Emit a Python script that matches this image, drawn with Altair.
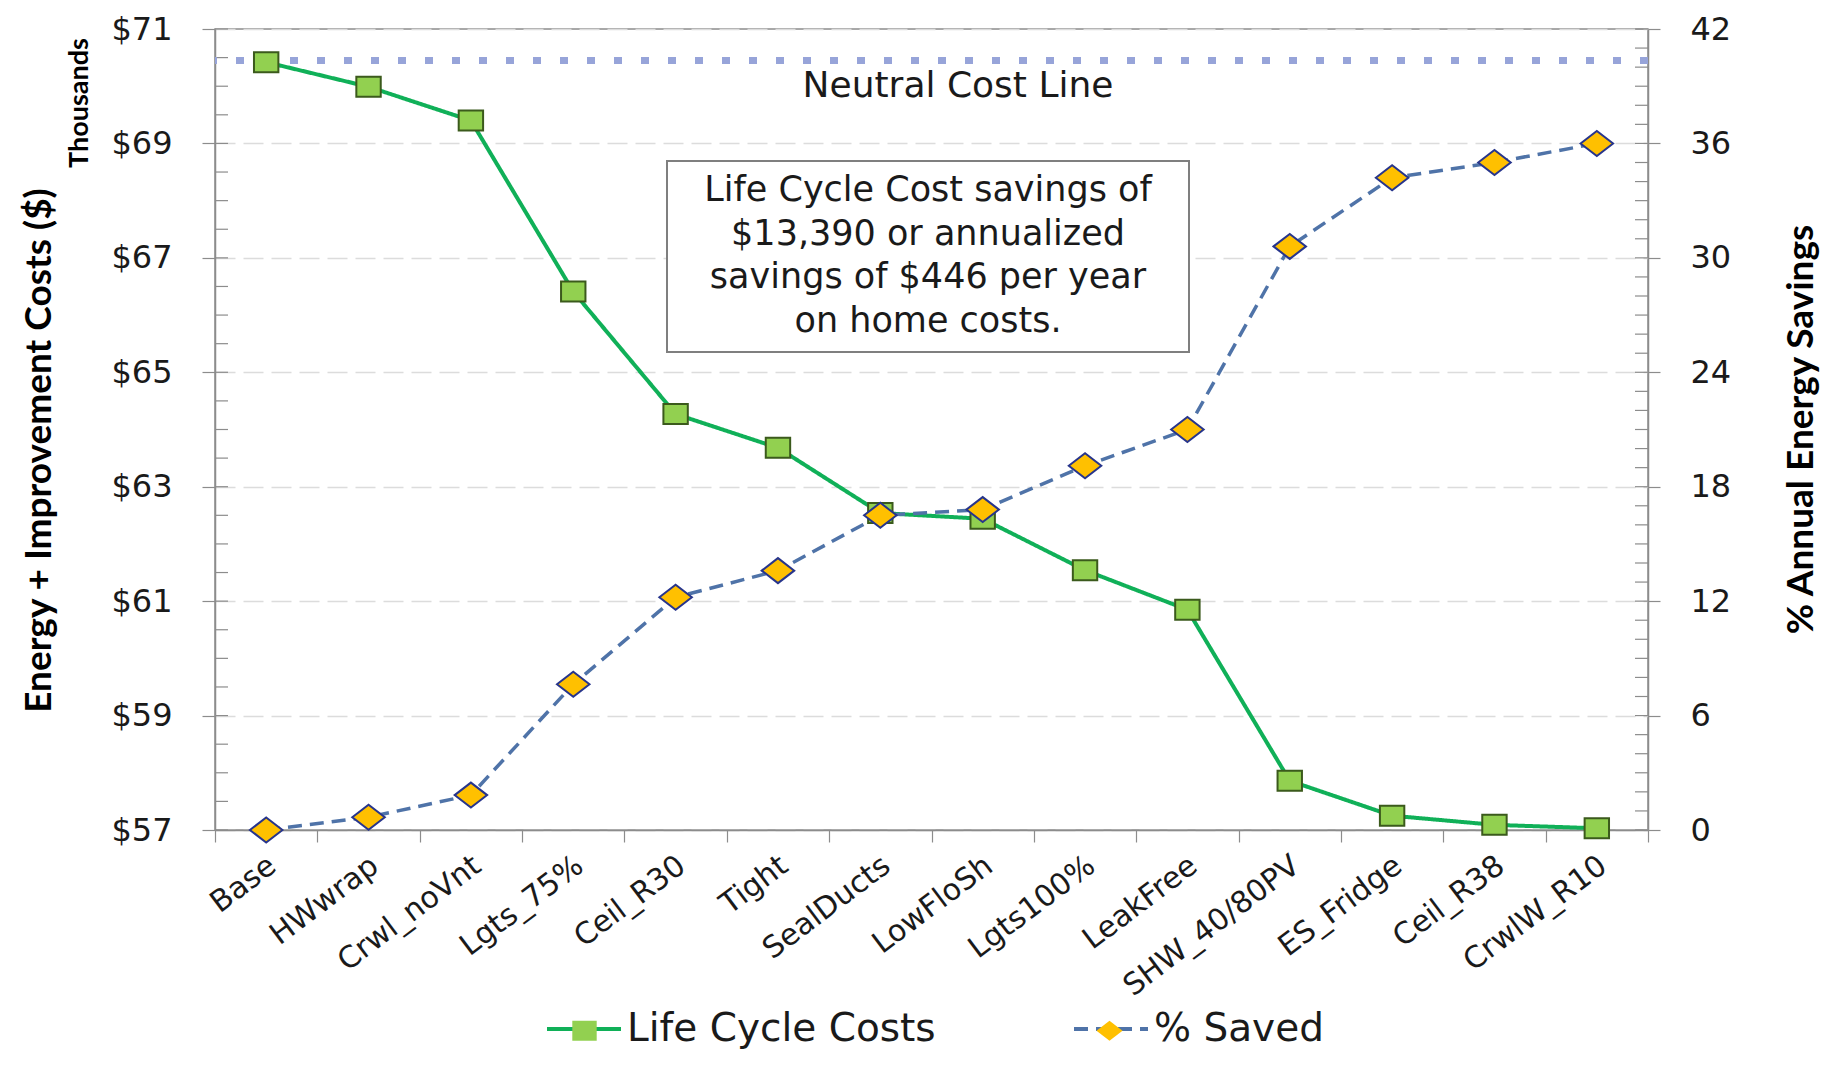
import altair as alt
import pandas as pd

# ---------------- data ----------------
categories = ["Base", "HWwrap", "Crwl_noVnt", "Lgts_75%", "Ceil_R30", "Tight",
              "SealDucts", "LowFloSh", "Lgts100%", "LeakFree", "SHW_40/80PV",
              "ES_Fridge", "Ceil_R38", "CrwlW_R10"]
life_cycle_costs = [70.42, 69.99, 69.40, 66.41, 64.27, 63.68, 62.54, 62.44,
                    61.54, 60.85, 57.86, 57.25, 57.09, 57.03]
pct_saved = [0.0, 0.67, 1.83, 7.64, 12.2, 13.6, 16.5, 16.8, 19.1, 21.0,
             30.6, 34.2, 35.0, 36.0]
neutral_cost = 70.45
series_names = ["Life Cycle Costs", "% Saved"]
marker_keys = ["lcc", "saved"]
left_ticks = [57, 59, 61, 63, 65, 67, 69, 71]
right_ticks = [0, 6, 12, 18, 24, 30, 36, 42]
left_minor = [57 + 0.5 * i for i in range(29)]
right_minor = list(range(0, 43))
note_text = "Life Cycle Cost savings of\n$13,390 or annualized\nsavings of $446 per year\non home costs."
neutral_label = "Neutral Cost Line"
left_title = "Energy + Improvement Costs ($)"
left_subtitle = "Thousands"
right_title = "% Annual Energy Savings"

# ---------------- style ----------------
W, H = 1433, 801
REG = "DejaVu Sans"
BOLD = "Lato"
TXT = "#1a1a1a"
AX = "#8c8c8c"
GREEN = "#10b058"
BLUE = "#4f73a8"
SQ_FILL = "#92d050"
DI_FILL = "#ffc000"
SQ_PATH = "M-1.22,-1L1.22,-1L1.22,1L-1.22,1Z"
DI_PATH = "M-1.3,0L0,-1L1.3,0L0,1Z"

df_cost = pd.DataFrame({"category": categories, "value": life_cycle_costs,
                        "marker": marker_keys[0], "series_line": series_names[0]})
df_saved = pd.DataFrame({"category": categories, "value": pct_saved,
                         "marker": marker_keys[1], "series_line": series_names[1]})
one = pd.DataFrame({"a": [0]})

x_enc = alt.X("category:N", sort=categories, bandPosition=0.5,
              scale=alt.Scale(type="band", paddingInner=0, paddingOuter=0),
              axis=alt.Axis(title=None, tickBand="extent", ticks=True, tickSize=12,
                            tickColor=AX, domainColor=AX, tickWidth=1.2, domainWidth=1.5,
                            labelAngle=-37, labelAlign="right", labelBaseline="middle",
                            labelPadding=20, labelOffset=6, labelFont=REG,
                            labelFontSize=30, labelColor=TXT, labelLimit=600,
                            labelOverlap=False, grid=False))

y_left = alt.Y("value:Q", scale=alt.Scale(domain=[57, 71], nice=False, zero=False),
               axis=alt.Axis(orient="left", values=left_ticks,
                             labelExpr="'$' + datum.value", labelFont=REG,
                             labelFontSize=32, labelColor=TXT, labelPadding=30,
                             labelOverlap=False,
                             tickSize=13, tickColor=AX, tickWidth=1.2,
                             domainColor=AX, domainWidth=1.5,
                             grid=True, gridColor="#dcdcdc", gridDash=[20, 8],
                             gridWidth=1.5,
                             title=left_title, titleFont=BOLD, titleFontWeight="bold",
                             titleFontSize=37, titleColor="#000000", titleAngle=270,
                             titleX=-165, titleY=421, titleAlign="center",
                             titleBaseline="alphabetic"))

y_right = alt.Y("value:Q", scale=alt.Scale(domain=[0, 42], nice=False),
                axis=alt.Axis(orient="right", values=right_ticks, labelFont=REG,
                              labelFontSize=32, labelColor=TXT, labelPadding=30,
                              labelOverlap=False,
                              tickSize=12, tickColor=AX, tickWidth=1.2,
                              domainColor=AX, domainWidth=1.5, grid=False,
                              title=right_title, titleFont=BOLD, titleFontWeight="bold",
                              titleFontSize=37, titleColor="#000000", titleAngle=270,
                              titleX=164, titleY=400, titleAlign="center",
                              titleBaseline="alphabetic"))

# line part of the legend (with labels)
legA = alt.Legend(orient="none", legendX=330, legendY=961, direction="horizontal",
                  title=None, symbolType="stroke", symbolSize=5476,
                  symbolStrokeWidth=4, labelFont=REG, labelFontSize=39,
                  labelColor=TXT, labelOffset=4, columnPadding=130, padding=0,
                  labelLimit=700)
# marker part of the legend, laid over the line symbols
legB = alt.Legend(orient="none", legendX=350, legendY=982, direction="horizontal",
                  title=None, symbolSize=400, symbolStrokeColor="#2a3550",
                  symbolStrokeWidth=2, symbolOpacity=1, labelFont=REG,
                  labelFontSize=39, labelExpr="''", labelOffset=8,
                  columnPadding=478, padding=0, labelLimit=700)

stroke_enc = alt.Stroke("series_line:N",
                        scale=alt.Scale(domain=series_names, range=[GREEN, BLUE]),
                        legend=legA)
dash_enc = alt.StrokeDash("series_line:N",
                          scale=alt.Scale(domain=series_names, range=[[1, 0], [14, 8]]),
                          legend=legA)
fill_enc = alt.Fill("marker:N",
                    scale=alt.Scale(domain=marker_keys, range=[SQ_FILL, DI_FILL]),
                    legend=legB)
shape_enc = alt.Shape("marker:N",
                      scale=alt.Scale(domain=marker_keys, range=[SQ_PATH, DI_PATH]),
                      legend=legB)

# ---------- left-scale group ----------
left_minor_ticks = alt.Chart(pd.DataFrame({"value": left_minor})).mark_rule(
    color=AX, strokeWidth=1.2).encode(y=y_left, x=alt.value(0), x2=alt.value(13))

neutral = alt.Chart(pd.DataFrame({"value": [neutral_cost]})).mark_rule(
    color="#97a4d9", strokeWidth=7, strokeDash=[8, 19]).encode(y=y_left)

cost_line = alt.Chart(df_cost).mark_line(strokeWidth=4).encode(
    x=x_enc, y=y_left, stroke=stroke_enc, strokeDash=dash_enc)
cost_pts = alt.Chart(df_cost).mark_point(
    filled=True, size=400, stroke="#3b5a1c", strokeWidth=2, opacity=1).encode(
    x=x_enc, y=y_left, fill=fill_enc, shape=shape_enc)

neutral_txt = alt.Chart(one).mark_text(
    font=REG, fontSize=36, color=TXT, align="center", baseline="alphabetic").encode(
    x=alt.value(743), y=alt.value(68), text=alt.value(neutral_label))

box = alt.Chart(one).mark_rect(fill="white", stroke="#7f7f7f", strokeWidth=2).encode(
    x=alt.value(452), x2=alt.value(974), y=alt.value(132), y2=alt.value(323))
box_txt = alt.Chart(one).mark_text(
    font=REG, fontSize=35, color=TXT, align="center", baseline="middle",
    lineBreak="\n", lineHeight=43.5).encode(
    x=alt.value(713), y=alt.value(161), text=alt.value(note_text))

sub_txt = alt.Chart(one).mark_text(
    font=BOLD, fontWeight="bold", fontSize=27, color="#000000", angle=270,
    align="center", baseline="alphabetic").encode(
    x=alt.value(-127), y=alt.value(74), text=alt.value(left_subtitle))

groupA = alt.layer(left_minor_ticks, neutral, cost_line, cost_pts,
                   neutral_txt, box, box_txt, sub_txt)

# ---------- right-scale group ----------
right_minor_ticks = alt.Chart(pd.DataFrame({"value": right_minor})).mark_rule(
    color=AX, strokeWidth=1.2).encode(y=y_right, x=alt.value(W - 13), x2=alt.value(W))

saved_line = alt.Chart(df_saved).mark_line(strokeWidth=3.5).encode(
    x=x_enc, y=y_right, stroke=stroke_enc, strokeDash=dash_enc)
saved_pts = alt.Chart(df_saved).mark_point(
    filled=True, size=625, stroke="#27358c", strokeWidth=2, opacity=1).encode(
    x=x_enc, y=y_right, fill=fill_enc, shape=shape_enc)

groupB = alt.layer(right_minor_ticks, saved_line, saved_pts)

chart = alt.layer(groupA, groupB).resolve_scale(y="independent").properties(
    width=W, height=H,
    padding={"left": 207, "top": 21, "right": 175, "bottom": 223},
    autosize=alt.AutoSizeParams(type="none"),
    background="white",
).configure_view(stroke=AX, strokeWidth=1.5)

chart.save("out.html", embed_options={"renderer": "svg", "actions": False})
